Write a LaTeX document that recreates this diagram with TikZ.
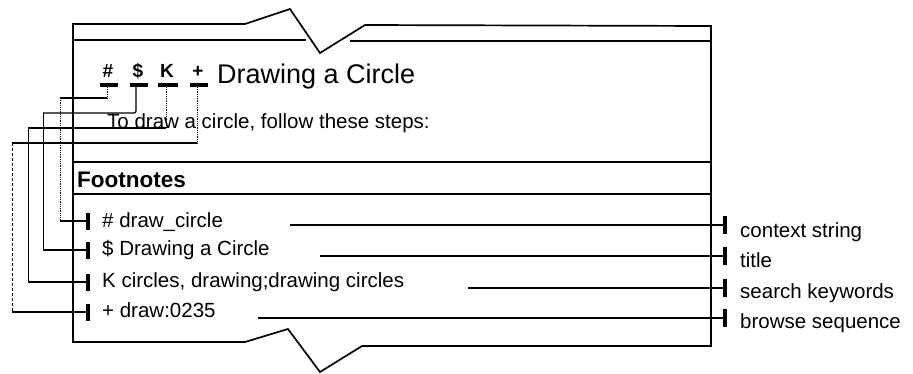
\documentclass[tikz,border=0pt]{standalone}
\usepackage{fontspec}
\setmainfont{Liberation Sans}
\begin{document}
\begin{tikzpicture}[x=1pt,y=-1pt,
  boxline/.style={line width=1.7pt, line join=miter},
  conn/.style={line width=1.2pt},
  guide/.style={line width=0.8pt},
  tickbar/.style={fill=black, draw=none, inner sep=0pt, minimum width=4pt, minimum height=17pt},
  codemark/.style={font=\fontsize{19}{19}\selectfont\bfseries, anchor=base, inner sep=0pt},
  body/.style={font=\fontsize{20.5}{24}\selectfont, inner sep=0pt, anchor=base west},
  codedash/.style={line width=3.5pt}
]
\useasboundingbox (0,0) rectangle (913,373);

% ---- box outline with breaks
\draw[boxline] (73,342) -- (73,24) -- (245,24) -- (290,9) -- (320,53) -- (365,25) -- (711,26)
  -- (711,346) -- (362,346) -- (320,372) -- (288,329) -- (245,342) -- cycle;
\draw[boxline] (73,40) -- (306,40);
\draw[boxline] (350,41) -- (711,41);
\draw[boxline] (73,162) -- (711,162);
\draw[boxline] (73,194) -- (711,194);

% ---- heading
\node[codemark] (mhash) at (108,77) {\#};
\node[codemark] (mdollar) at (138,77) {\$};
\node[codemark] (mk) at (167,77) {K};
\node[codemark] (mplus) at (198,77) {+};
\draw[codedash] (100,85) -- (118,85);
\draw[codedash] (130,85) -- (148,85);
\draw[codedash] (158,85) -- (178,85);
\draw[codedash] (190,85) -- (208,85);
\node[body, font=\fontsize{27}{30}\selectfont] (title) at (217,83) {Drawing a Circle};
\node[body] (intro) at (107,128) {To draw a circle, follow these steps:};
\node[body, font=\fontsize{22.5}{26}\selectfont\bfseries] (foot) at (77,187) {Footnotes};

% ---- footnote entries
\node[body] (fn1) at (102,227) {\# draw\_circle};
\node[body] (fn2) at (102,255) {\$ Drawing a Circle};
\node[body] (fn3) at (102,287) {K circles, drawing;drawing circles};
\node[body] (fn4) at (102,317) {+ draw:0235};

\node[tickbar] (lt1) at (88,221) {};
\node[tickbar] (lt2) at (88,250) {};
\node[tickbar] (lt3) at (88,282) {};
\node[tickbar] (lt4) at (88,312) {};

% ---- left connectors
\coordinate (h0) at (107,87); \coordinate (h1) at (107,98); \coordinate (h2) at (60,98); \coordinate (h3) at (60,221);
\draw[guide, densely dotted] (h0) -- (h1);
\draw[conn] (h1) -- (h2);
\draw[guide, densely dotted] (h2) -- (h3);
\draw[conn] (h3) -- (lt1.west);

\coordinate (d0) at (136,87); \coordinate (d1) at (136,113); \coordinate (d2) at (43,113); \coordinate (d3) at (43,250);
\draw[conn, rounded corners=2pt] (d0) -- (d1) -- (d2);
\draw[guide] (d2) -- (d3);
\draw[conn] (d3) -- (lt2.west);

\coordinate (k0) at (166,87); \coordinate (k1) at (166,128); \coordinate (k2) at (28,128); \coordinate (k3) at (28,282);
\draw[guide, densely dotted] (k0) -- (k1);
\draw[conn] (k1) -- (k2);
\draw[guide] (k2) -- (k3);
\draw[conn] (k3) -- (lt3.west);

\coordinate (p0) at (197,87); \coordinate (p1) at (197,143); \coordinate (p2) at (12,143); \coordinate (p3) at (12,312);
\draw[guide, densely dotted] (p0) -- (p1);
\draw[conn] (p1) -- (p2);
\draw[guide, densely dashed] (p2) -- (p3);
\draw[conn] (p3) -- (lt4.west);

% ---- right labels
\node[tickbar, minimum height=18pt] (rt1) at (725,225) {};
\node[tickbar, minimum height=18pt] (rt2) at (725,256) {};
\node[tickbar, minimum height=18pt] (rt3) at (725,288) {};
\node[tickbar, minimum height=18pt] (rt4) at (725,318) {};
\node[body] (lab1) at (740,237) {context string};
\node[body] (lab2) at (740,267) {title};
\node[body] (lab3) at (740,298) {search keywords};
\node[body] (lab4) at (740,328) {browse sequence};

\coordinate (s1) at (290,225);
\coordinate (s2) at (320,256);
\coordinate (s3) at (468,288);
\coordinate (s4) at (258,318);
\draw[conn] (s1) -- (rt1.west);
\draw[conn] (s2) -- (rt2.west);
\draw[conn] (s3) -- (rt3.west);
\draw[conn] (s4) -- (rt4.west);
\end{tikzpicture}
\end{document}
